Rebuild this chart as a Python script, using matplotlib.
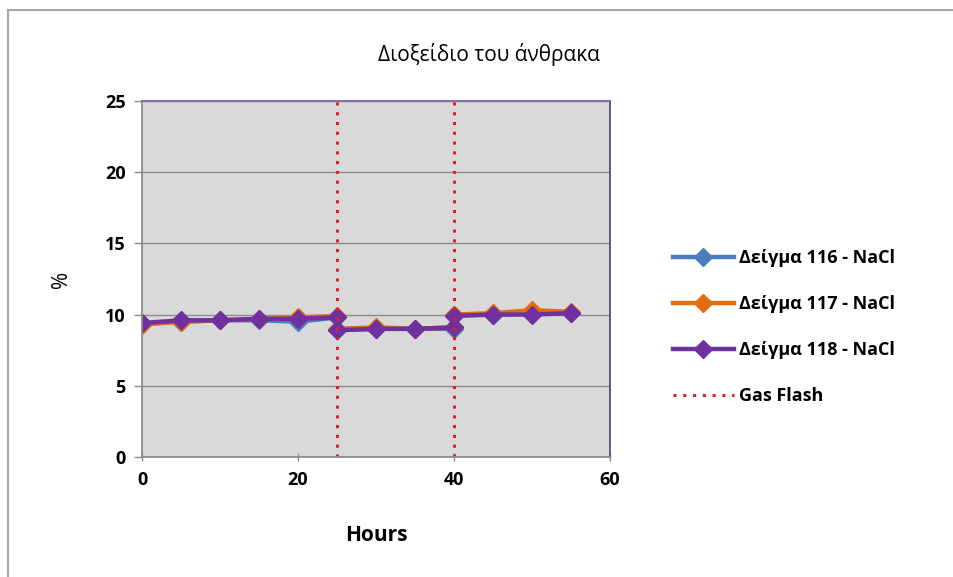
import matplotlib
matplotlib.use("Agg")
import matplotlib.pyplot as plt
from matplotlib.lines import Line2D

# Sample times (hours); gas flash points appear twice (before / after)
hours = [0, 5, 10, 15, 20, 25, 25, 30, 35, 40, 40, 45, 50, 55]
s116 = [9.4, 9.5, 9.6, 9.6, 9.5, 9.8, 8.9, 9.0, 9.0, 9.0, 10.0, 10.0, 10.1, 10.1]
s117 = [9.3, 9.5, 9.6, 9.7, 9.8, 9.9, 9.0, 9.1, 9.0, 9.1, 10.0, 10.1, 10.3, 10.2]
s118 = [9.4, 9.6, 9.6, 9.7, 9.7, 9.8, 8.9, 9.0, 9.0, 9.1, 9.9, 10.0, 10.0, 10.1]
flash_hours = [25, 40]

series_names = ["Δείγμα 116 - NaCl", "Δείγμα 117 - NaCl", "Δείγμα 118 - NaCl"]
series_colors = ["#4A7EBB", "#E46C0A", "#7030A0"]

plt.rcParams['font.family'] = ['Open Sans', 'DejaVu Sans']

fig = plt.figure(figsize=(9.54, 5.77), dpi=100)
ax = fig.add_axes([0.149, 0.208, 0.490, 0.617])
ax.set_facecolor("#D9D9D9")

for ys, name, col in zip([s116, s117, s118], series_names, series_colors):
    ax.plot(hours, ys, color=col, lw=3.2, marker="D", ms=9, label=name)

for i, fh in enumerate(flash_hours):
    ax.axvline(fh, color="#E02020", lw=2.2, ls=(0, (1, 2.2)),
               label="Gas Flash" if i == 0 else None)

ax.set_xlim(0, 60)
ax.set_ylim(0, 25)
ax.set_xticks([0, 20, 40, 60])
ax.set_yticks([0, 5, 10, 15, 20, 25])
ax.yaxis.grid(True, color="#8C8C8C", lw=1)
ax.set_axisbelow(True)
ax.tick_params(labelsize=13, length=6, color="#8C8C8C", width=1)
for lbl in ax.get_xticklabels() + ax.get_yticklabels():
    lbl.set_fontweight("bold")
ax.tick_params(axis="x", direction="inout", pad=7)
ax.tick_params(axis="y", direction="out", pad=6)

ax.spines["left"].set_color("#8C8C8C")
ax.spines["bottom"].set_color("#8C8C8C")
ax.spines["top"].set_color("#8064A2")
ax.spines["right"].set_color("#5F497A")
for sp in ax.spines.values():
    sp.set_linewidth(1.3)

ax.set_xlabel("Hours", fontsize=15, fontweight="bold", labelpad=26)
ax.set_ylabel("%", fontsize=15, labelpad=24)

fig.text(0.513, 0.905, "Διοξείδιο του άνθρακα", fontsize=15, ha="center", va="center")

leg = fig.legend(loc="center left", bbox_to_anchor=(0.688, 0.433), frameon=False,
                 fontsize=13, handlelength=3.4, labelspacing=1.55, handletextpad=0.3)
for txt in leg.get_texts():
    txt.set_fontweight("bold")

# outer chart border (top and left visible)
fig.add_artist(Line2D([0.0085, 0.0085], [0.0, 0.983], color="#A6A6A6", lw=1.5))
fig.add_artist(Line2D([0.0085, 1.0], [0.983, 0.983], color="#A6A6A6", lw=1.5))

fig.savefig("out.png", dpi=100)
